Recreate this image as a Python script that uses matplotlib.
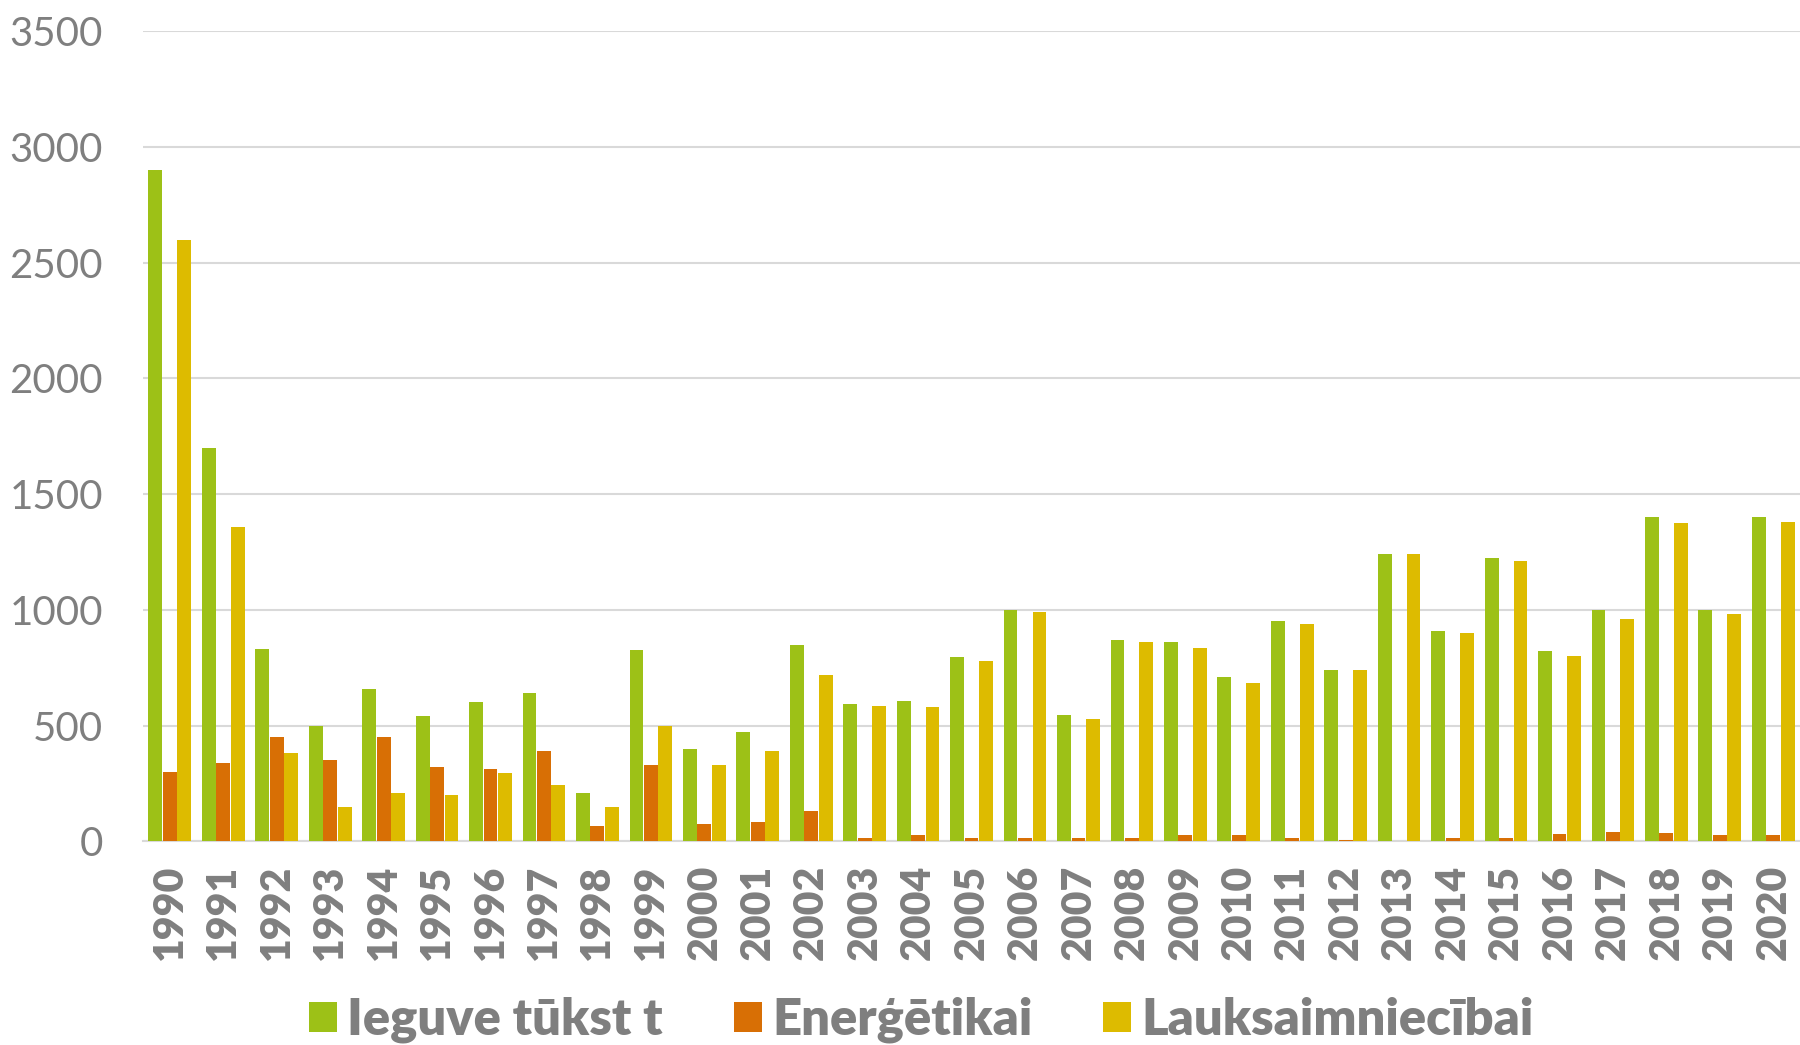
import numpy as np
import matplotlib
matplotlib.use("Agg")
import matplotlib.pyplot as plt

### data
years = [str(y) for y in range(1990, 2021)]
ieguve = [2900, 1700, 830, 500, 660, 540, 600, 640, 210, 825,
          400, 470, 850, 595, 605, 795, 1000, 545, 870, 860,
          710, 950, 740, 1240, 910, 1225, 820, 1000, 1400, 1000, 1400]
energetikai = [300, 340, 450, 350, 450, 320, 310, 390, 65, 330,
               75, 85, 130, 12, 25, 15, 15, 12, 15, 25,
               25, 12, 5, 0, 12, 15, 30, 40, 35, 25, 25]
lauksaimn = [2600, 1360, 380, 150, 210, 200, 295, 245, 150, 500,
             330, 390, 720, 585, 580, 780, 990, 530, 860, 835,
             685, 940, 740, 1240, 900, 1210, 800, 960, 1375, 980, 1380]
labels = ['Ieguve tūkst t', 'Enerģētikai', 'Lauksaimniecībai']
colors = ['#9DC117', '#D86F05', '#DDBB00']

grey = '#7F7F7F'
plt.rcParams['font.family'] = ['Lato', 'DejaVu Sans']

### plot
fig = plt.figure(figsize=(18, 10.45), dpi=100)
ax = fig.add_axes([0.0795, 0.195, 0.9205, 0.775])

x = np.arange(len(years))
w = 0.27
for i, (vals, lab, col) in enumerate(zip([ieguve, energetikai, lauksaimn], labels, colors)):
    ax.bar(x + (i - 1) * w, vals, w * 0.96, color=col, label=lab, zorder=3)

ax.set_xlim(-0.5, len(years) - 0.5)
ax.set_ylim(0, 3500)
ax.set_yticks(np.arange(0, 3501, 500))
ax.grid(axis='y', color='#D9D9D9', linewidth=1.5, zorder=0)
for s in ['top', 'right', 'left']:
    ax.spines[s].set_visible(False)
ax.spines['bottom'].set_color('#D9D9D9')
ax.spines['bottom'].set_linewidth(1.5)
ax.tick_params(axis='both', length=0)
ax.tick_params(axis='y', pad=29, labelsize=29, labelcolor=grey)
ax.set_xticks(x)
ax.set_xticklabels(years, rotation=90, fontsize=29.5, fontweight='heavy', color=grey)
ax.tick_params(axis='x', pad=17)

fig.legend(loc='lower center', bbox_to_anchor=(0.512, -0.042), ncol=3, frameon=False,
           prop={'size': 36.5, 'weight': 'heavy'}, labelcolor=grey,
           handlelength=0.55, handleheight=0.55, handletextpad=0.2, columnspacing=1.4)

fig.savefig('out.png', dpi=100)
